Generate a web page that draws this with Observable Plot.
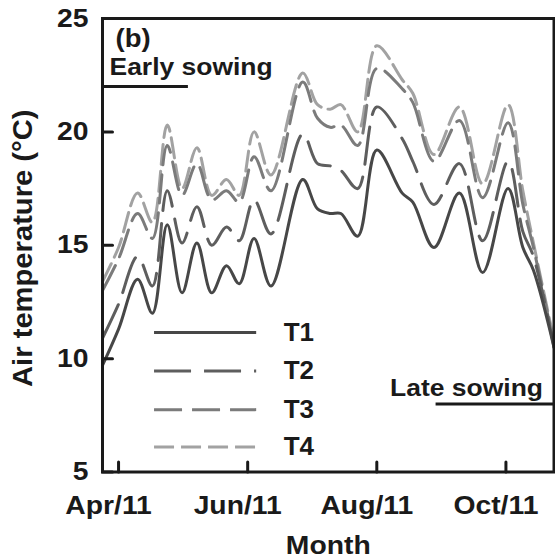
<!DOCTYPE html>
<html><head><meta charset="utf-8">
<script src="https://cdn.jsdelivr.net/npm/d3@7"></script>
<script src="https://cdn.jsdelivr.net/npm/@observablehq/plot@0.6"></script>
<style>
html,body{margin:0;padding:0;background:#fff;}
#chart{width:555px;height:560px;}
</style></head><body><div id="chart"></div>
<script>
// ---- data ----
const dates = ["2011-03-24T10:00Z","2011-04-01","2011-04-10","2011-04-17","2011-04-24","2011-05-01","2011-05-08",
  "2011-05-15","2011-05-22","2011-05-28","2011-06-04","2011-06-12","2011-06-27","2011-07-04","2011-07-10",
  "2011-07-15","2011-07-23","2011-08-01","2011-08-13","2011-08-18","2011-08-28","2011-09-09","2011-09-20",
  "2011-10-02","2011-10-09","2011-10-14","2011-10-23T17:00Z"];
const t1 = [9.7,11.3,13.5,12.0,15.9,12.9,15.1,12.9,14.1,13.3,15.3,13.2,17.9,16.6,16.4,16.4,15.4,19.2,17.3,16.9,14.9,17.3,13.8,17.5,14.9,13.9,10.5];
const t2 = [10.9,12.4,14.5,13.2,17.4,15.1,16.7,15.0,15.8,15.2,17.0,15.5,19.9,18.6,18.5,18.3,17.5,21.1,19.7,18.7,16.8,18.6,15.2,18.7,15.6,14.5,10.5];
const t3 = [13.0,14.4,16.4,15.3,19.4,17.2,18.6,17.0,17.4,16.9,18.9,17.4,22.2,20.6,20.2,20.3,19.4,22.8,21.9,21.3,18.7,20.5,17.1,20.4,16.8,14.9,10.6];
const t4 = [13.4,14.9,17.3,16.0,20.3,17.5,19.3,17.2,17.9,17.2,20.0,18.1,22.6,21.2,21.0,21.2,20.0,23.8,22.3,21.7,19.0,21.1,17.7,21.2,17.4,15.1,10.8];
const seriesNames = ["T1","T2","T3","T4"];
const seriesValues = [t1,t2,t3,t4];
const yTicks = [5,10,15,20,25];
const xTicks = ["2011-04-01","2011-06-01","2011-08-01","2011-10-01"];
const xDomain = ["2011-03-24T10:00Z","2011-10-23T17:00Z"];
const yDomain = [5,25];
const panelLabel = "(b)";
const xTitle = "Month";
const yTitle = "Air temperature (°C)";
const earlySowing = {label:"Early sowing", y:22, end:"2011-05-04"};
const lateSowing = {label:"Late sowing", y:8, start:"2011-08-29"};
// legend placement (data units)
const legendY = [11.15,9.45,7.75,6.1];
const legendX = ["2011-04-18","2011-06-05T06:00Z","2011-06-18"];

// ---- styles ----
const colors = ["#474747","#5e5e5e","#7b7b7b","#a2a2a2"];
const dashes = [null,"37,13","28,10","20,7"];
const ink = "#1a1a1a";
const font = "'Liberation Sans', Arial, sans-serif";
// horizontal glyph stretch of the original typeface
const axisStretch = 1.11;
const textStretch = {"Early sowing":1.08, "Late sowing":1.08, "(b)":1.1, "Month":1.11, "Air temperature (°C)":1.08};

const rows = seriesNames.map((name,i) => dates.map((d,j) => ({series:name, date:new Date(d), value:seriesValues[i][j]})));
const tickShape = {draw(ctx, l){ ctx.moveTo(0,0); ctx.lineTo(0,-l); }};

const marks = [];
for (let i = seriesNames.length - 1; i >= 0; i--) {
  marks.push(Plot.line(rows[i], {x:"date", y:"value", curve:"catmull-rom", stroke:colors[i], strokeWidth:3,
    strokeDasharray:dashes[i] || undefined}));
}
// legend
seriesNames.forEach((name,i) => {
  marks.push(Plot.ruleY([legendY[i]], {y:d=>d, x1:new Date(legendX[0]), x2:new Date(legendX[1]),
    stroke:colors[i], strokeWidth:3, strokeDasharray:dashes[i] || undefined}));
  marks.push(Plot.text([name], {x:()=>new Date(legendX[2]), y:()=>legendY[i], text:d=>d, textAnchor:"start",
    fontSize:26, fontWeight:"bold", fill:ink}));
});
// sowing annotations
marks.push(Plot.ruleY([earlySowing], {y:"y", x1:()=>new Date(xDomain[0]), x2:d=>new Date(d.end), stroke:ink, strokeWidth:3}));
marks.push(Plot.text([earlySowing], {x:()=>new Date(xDomain[0]), y:"y", text:"label", textAnchor:"start", lineAnchor:"bottom",
  dx:7, dy:-12, fontSize:24.5, fontWeight:"bold", fill:ink}));
marks.push(Plot.ruleY([lateSowing], {y:"y", x1:d=>new Date(d.start), x2:()=>new Date(xDomain[1]), stroke:ink, strokeWidth:3}));
marks.push(Plot.text([lateSowing], {x:()=>new Date(xDomain[1]), y:"y", text:"label", textAnchor:"end", lineAnchor:"bottom",
  dx:-11, dy:-8, fontSize:24.5, fontWeight:"bold", fill:ink}));
marks.push(Plot.text([panelLabel], {frameAnchor:"top-left", text:d=>d, textAnchor:"start", lineAnchor:"bottom",
  dx:13, dy:28, fontSize:25, fontWeight:"bold", fill:ink}));
// axes
marks.push(Plot.axisY({ticks:yTicks, tickSize:0, tickPadding:14, label:null, fontSize:25.5, fontWeight:"bold", fill:ink}));
marks.push(Plot.axisX({ticks:xTicks.map(d=>new Date(d)), tickFormat:d3.utcFormat("%b/%y"), tickSize:0, tickPadding:24,
  dx:-10, label:null, fontSize:25.5, fontWeight:"bold", fill:ink}));
marks.push(Plot.vector(yTicks, {y:d=>d, frameAnchor:"left", length:10, rotate:90, anchor:"start", shape:tickShape, stroke:ink, strokeWidth:3}));
marks.push(Plot.vector(xTicks, {x:d=>new Date(d), frameAnchor:"bottom", length:10, rotate:0, anchor:"start", shape:tickShape, stroke:ink, strokeWidth:3}));
marks.push(Plot.frame({stroke:ink, strokeWidth:3}));
marks.push(Plot.text([yTitle], {frameAnchor:"left", textAnchor:"middle", rotate:-90, dx:-79, dy:3, text:d=>d,
  fontSize:27, fontWeight:"bold", fill:ink}));
marks.push(Plot.text([xTitle], {frameAnchor:"bottom", textAnchor:"middle", lineAnchor:"bottom", dy:82, text:d=>d,
  fontSize:25.5, fontWeight:"bold", fill:ink}));

const chart = Plot.plot({
  width:555, height:560,
  marginLeft:102, marginRight:1.5, marginTop:18, marginBottom:88.5,
  style:{fontFamily:font, background:"#fff", overflow:"visible"},
  x:{type:"utc", domain:xDomain.map(d=>new Date(d))},
  y:{domain:yDomain},
  marks
});
document.getElementById("chart").appendChild(chart);
// widen glyphs to match the original typeface's proportions
function widen(t, s) {
  const L = t.getComputedTextLength();
  if (L > 0) {
    t.setAttribute("textLength", (L * s).toFixed(1));
    t.setAttribute("lengthAdjust", "spacingAndGlyphs");
  }
}
chart.querySelectorAll('g[aria-label="x-axis tick label"] text, g[aria-label="y-axis tick label"] text')
  .forEach(t => widen(t, axisStretch));
chart.querySelectorAll("text").forEach(t => {
  const s = textStretch[t.textContent];
  if (s) widen(t, s);
});
</script>
</body></html>
